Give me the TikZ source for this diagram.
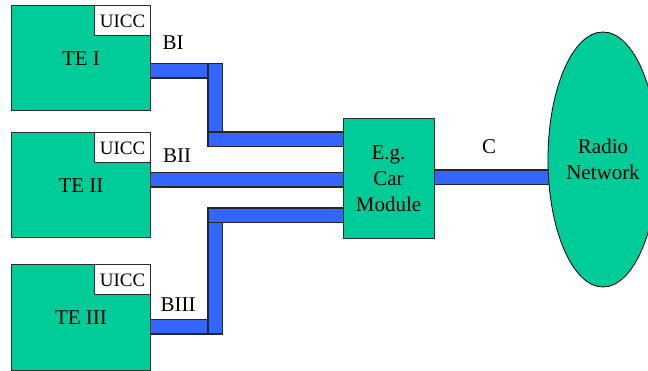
\documentclass[tikz,border=0pt]{standalone}
\usepackage{fontspec}
\setmainfont{Liberation Serif}
\usetikzlibrary{
  shapes.geometric,
  positioning,
  calc,
  backgrounds
}
\definecolor{boxgreen}{RGB}{0, 204, 153}
\definecolor{busblue}{RGB}{51, 102, 255}
\definecolor{edgecolor}{RGB}{45, 45, 45}
\tikzset{
textfont/.style={
  font=\fontsize{21}{26}\selectfont
},
teblock/.style={
  draw=edgecolor,
  line width=1pt,
  fill=boxgreen,
  minimum width=139pt,
  minimum height=105pt,
  inner sep=0pt,
  textfont
},
uiccblock/.style={
  draw=edgecolor,
  line width=1pt,
  fill=white,
  minimum width=56pt,
  minimum height=30pt,
  inner sep=0pt,
  font=\fontsize{19}{22}\selectfont
},
moduleblock/.style={
  draw=edgecolor,
  line width=1pt,
  fill=boxgreen,
  minimum width=91pt,
  minimum height=120pt,
  inner sep=0pt,
  align=center,
  textfont
},
netblock/.style={
  ellipse,
  draw=black,
  line width=0.8pt,
  fill=boxgreen,
  minimum width=110pt,
  minimum height=255pt,
  inner sep=0pt,
  align=center,
  textfont
},
buslabel/.style={
  inner sep=0pt,
  textfont
},
bus/.style={
  draw=black!85,
  line width=1.5pt,
  double=busblue,
  double distance=13pt,
  line cap=rect
}
}

\begin{document}
\begin{tikzpicture}[x=1pt, y=-1pt]
  \useasboundingbox (0,0) rectangle (648,371);

  \node[teblock] (te1) at (81,58.5) {TE I};
  \node[teblock] (te2) at (81,185.5) {TE II};
  \node[teblock] (te3) at (81,317.5) {TE III};
  \node[uiccblock, anchor=north east] (uicc1) at (te1.north east) {UICC};
  \node[uiccblock, anchor=north east] (uicc2) at (te2.north east) {UICC};
  \node[uiccblock, anchor=north east] (uicc3) at (te3.north east) {UICC};

  \node[moduleblock] (car) at (388.5,179) {E.g.\\Car\\Module};
  \node[netblock] (radio) at (603,159.5) {Radio\\Network};

  \coordinate (bi) at ([yshift=-12.5pt]te1.east);
  \coordinate (bii) at ([yshift=5.5pt]te2.east);
  \coordinate (biii) at ([yshift=-9.5pt]te3.east);
  \coordinate (cbus) at ([yshift=1.5pt]car.east);
  \coordinate (bend1) at (215,139.5);
  \coordinate (bend3) at (215,215.5);

  \begin{scope}[on background layer]
    \draw[bus] (bi) -- (bend1 |- bi);
    \draw[bus] (bend1 |- bi) -- (bend1);
    \draw[bus] (bend1) -- (bend1 -| car.west);
    \draw[bus] (bii) -- (bii -| car.west);
    \draw[bus] (biii) -- (bend3 |- biii);
    \draw[bus] (bend3 |- biii) -- (bend3);
    \draw[bus] (bend3) -- (bend3 -| car.west);
    \draw[bus] (cbus) -- (cbus -| radio.west);
  \end{scope}

  \node[buslabel] (lbi) at (173,43) {BI};
  \node[buslabel] (lbii) at (177,156) {BII};
  \node[buslabel] (lbiii) at (178,305) {BIII};
  \node[buslabel] (lc) at (489,147) {C};
\end{tikzpicture}
\end{document}
